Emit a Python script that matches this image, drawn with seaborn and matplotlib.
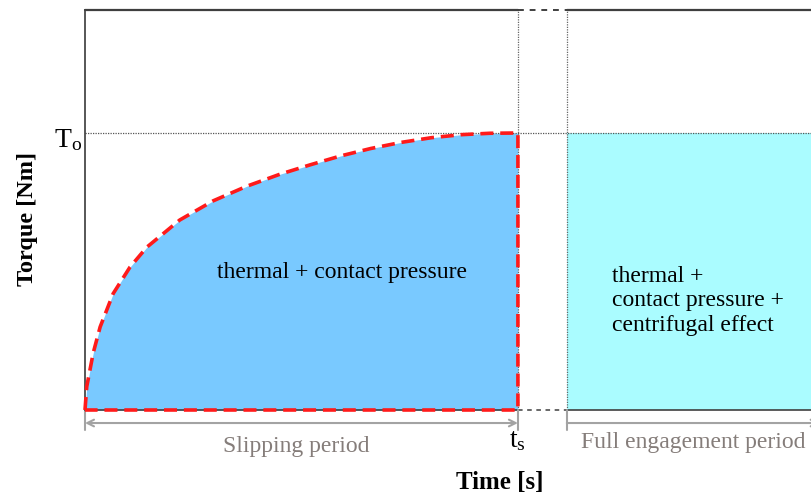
import numpy as np
import pandas as pd
import matplotlib
matplotlib.use("Agg")
import matplotlib.pyplot as plt
import seaborn as sns

# ---- data (normalised time t/t_s and torque T/T_o) ----
slip_time = [0.0, 0.004, 0.019, 0.035, 0.065, 0.104, 0.143, 0.219, 0.296, 0.374,
             0.45, 0.52, 0.59, 0.66, 0.73, 0.80, 0.87, 0.935, 1.0]
slip_torque = [0.0, 0.084, 0.206, 0.30, 0.42, 0.516, 0.588, 0.686, 0.755, 0.808,
               0.851, 0.885, 0.917, 0.944, 0.966, 0.983, 0.994, 0.999, 1.0]
t_s = 1.0
t_engage = 1.113
t_end = 1.677
T_o = 1.0
y_top = 1.444

labels_main = ["thermal + contact pressure",
               "thermal +\ncontact pressure +\ncentrifugal effect"]
period_labels = ["Slipping period", "Full engagement period"]
axis_labels = ["Time [s]", "Torque [Nm]"]

sns.set_theme(style="white")
plt.rcParams["font.family"] = ["Liberation Serif", "DejaVu Serif"]
plt.rcParams["mathtext.fontset"] = "custom"
plt.rcParams["mathtext.rm"] = "Liberation Serif"

fig = plt.figure(figsize=(8.11, 4.97), dpi=100)
ax = fig.add_axes([85 / 811, 87 / 497, 726 / 811, 400 / 497])
ax.set_xlim(0, t_end)
ax.set_ylim(0, y_top)
for s in ["top", "right", "bottom"]:
    ax.spines[s].set_visible(False)
ax.spines["left"].set_color("#3a3a3a")
ax.spines["left"].set_linewidth(1.2)
ax.set_xticks([])
ax.set_yticks([])

dark = "#3f3f3f"
# fills
ax.fill_between(slip_time, slip_torque, 0, color="#79C9FF", lw=0, zorder=1)
ax.fill_between([t_engage, t_end], [T_o, T_o], 0, color="#AAFCFF", lw=0, zorder=1)

# frame lines
ax.plot([0, t_s], [y_top, y_top], color=dark, lw=1.6, clip_on=False, zorder=3)
ax.plot([t_s, t_engage], [y_top, y_top], color=dark, lw=1.4, ls=(0, (3, 3)), clip_on=False, zorder=3)
ax.plot([t_engage, t_end], [y_top, y_top], color=dark, lw=1.6, clip_on=False, zorder=3)
ax.plot([0, t_s], [0, 0], color=dark, lw=1.2, clip_on=False, zorder=2)
ax.plot([t_s, t_engage], [0, 0], color=dark, lw=1.1, ls=(0, (3, 3)), clip_on=False, zorder=2)
ax.plot([t_engage, t_end], [0, 0], color=dark, lw=1.2, clip_on=False, zorder=2)

# dotted reference lines
ax.plot([0, t_end], [T_o, T_o], color="#555555", lw=0.9, ls=(0, (1, 1)), zorder=2)
ax.plot([t_s, t_s], [0, y_top], color="#666666", lw=0.9, ls=(0, (1, 1)), zorder=2)
ax.plot([t_engage, t_engage], [0, y_top], color="#666666", lw=0.9, ls=(0, (1, 1)), zorder=2)

# red dashed outline of slipping region
outline = pd.DataFrame({
    "t": slip_time + [t_s, 0.0],
    "T": slip_torque + [0.0, 0.0],
})
sns.lineplot(data=outline, x="t", y="T", sort=False, estimator=None, ax=ax,
             color="#FF1A1A", lw=2.6, zorder=4, clip_on=False)
ax.lines[-1].set_linestyle((0, (3.6, 1.9)))
ax.set_xlabel("")
ax.set_ylabel("")

# period arrows
gray = "#A3A3A3"
ya = -0.047
ax.annotate("", xy=(0, ya), xytext=(t_s, ya),
            arrowprops=dict(arrowstyle="<->", color=gray, lw=1.5,
                            shrinkA=0, shrinkB=0, mutation_scale=12),
            annotation_clip=False)
ax.annotate("", xy=(t_engage, ya), xytext=(t_end + 0.02, ya),
            arrowprops=dict(arrowstyle="<-", color=gray, lw=1.5,
                            shrinkA=0, shrinkB=0, mutation_scale=12),
            annotation_clip=False)
for xb in [0, t_s, t_engage]:
    ax.plot([xb, xb], [0, -0.072], color=gray, lw=1.5, clip_on=False, zorder=2)

tc = "#857d7a"
ax.text(0.487, -0.13, period_labels[0], ha="center", va="center", fontsize=17, color=tc)
ax.text(1.145, -0.118, period_labels[1], ha="left", va="center", fontsize=17, color=tc)

# region texts
ax.text(0.594, 0.498, labels_main[0], ha="center", va="center", fontsize=17, color="black")
ax.text(1.217, 0.394, labels_main[1], ha="left", va="center", fontsize=17,
        color="black", linespacing=1.23)

# T_o and t_s markers
ax.text(-0.007, 0.975, r"$\mathrm{T_o}$", ha="right", va="center", fontsize=20, color="black")
ax.text(t_s, -0.112, r"$\mathrm{t_s}$", ha="center", va="center", fontsize=20, color="black")

# axis titles
fig.text(500 / 811, 1 - 483 / 497, axis_labels[0], ha="center", va="center",
         fontsize=18, fontweight="bold", color="black")
fig.text(28 / 811, 1 - 219 / 497, axis_labels[1], ha="center", va="center",
         rotation=90, fontsize=17.5, fontweight="bold", color="black")

fig.savefig("out.png", dpi=100)
